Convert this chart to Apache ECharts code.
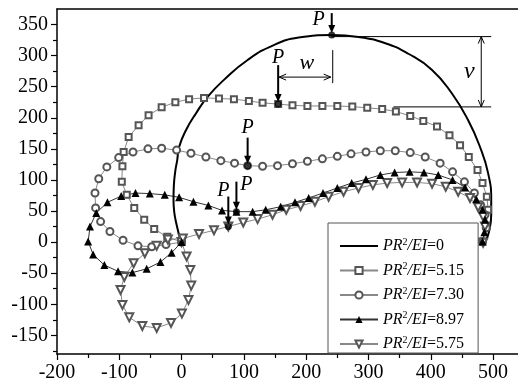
<!DOCTYPE html>
<html>
<head>
<meta charset="utf-8">
<script src="https://cdn.jsdelivr.net/npm/echarts@6/dist/echarts.min.js"></script>
<style>
  html, body { margin: 0; padding: 0; background: #fff; }
  #main { width: 518px; height: 388px; }
</style>
</head>
<body>
<div id="main"></div>
<script>
// deformed ring shapes, [x, y]
var ring0 = [[0,0],[-2,4],[-8,28],[-12,50],[-13,68],[-12.5,90],[-10,115],[-7,132],[-4,153],[7,180],[23,207],[42,234],[68,261],[106,293],[148,317],[188,329],[241,333],[284,330],[327,320],[364,303],[402,277],[434,239],[460,196],[479,153],[492,111],[497,68],[497,44],[493,15],[488,2]];

var ring515 = [[0,0],[-23,8.5],[-44,21],[-60,36],[-76,55],[-88,76],[-96,97],[-95,122],[-93,145],[-85,169],[-69,188],[-53,204],[-32,217],[-10,225],[12,230],[36,232],[60,231],[84,230],[108,227],[130,224],[155,222],[178,220],[202,219],[226,219],[250,219],[274,218],[298,216],[322,214],[344,210],[367,203],[388,195],[410,186],[430,172],[447,156],[461,137],[475,116],[483,95],[490,73],[492,52],[489,26],[483,1]];

var ring730 = [[0,0],[-25,-4],[-48,-7.5],[-70,-6],[-94,3],[-115,17],[-130,33],[-138,55],[-139,79],[-133,102],[-120,121],[-101,136],[-78,145],[-54,150],[-32,151],[-8,148],[15,143],[39,137],[63,131],[85,127],[106,123],[130,122],[154,123],[178,126],[202,130],[226,134],[250,138],[272,142],[296,145],[319,147],[343,147],[367,144],[391,137],[415,127],[435,113],[454,97],[470,79],[480,60],[487,44],[489,23],[483,1]];

var ring897 = [[0,0],[-16,-17],[-34,-32],[-56,-43],[-79,-49],[-102,-47],[-124,-37],[-142,-20],[-150,1],[-147,25],[-137,47],[-119,64],[-97,74],[-74,79],[-51,78],[-27,76],[-4,72],[19,65],[43,59],[65,51],[88,49],[114,49],[135,52],[159,57],[182,64],[204,71],[227,79],[250,87],[273,95],[296,101],[319,108],[342,112],[366,113],[389,112],[412,108],[435,100],[455,88],[473,69],[483,52],[487,36],[486,16],[483,1]];

var ring575 = [[0,0],[8,-23],[14,-45],[15.5,-70],[11,-93],[0.5,-115],[-17,-130],[-40,-138],[-63,-135],[-84,-121],[-95,-101],[-98,-77],[-92,-56],[-77,-34],[-59,-18],[-40,-6],[-22,4],[2,6],[28,13],[52,19],[75,25],[99,31.5],[122,37],[146,44],[168,52],[191,58],[214,65],[236,73],[260,81],[284,87],[307,92],[330,95],[354,96],[378,96],[402,94],[424,89],[444,81],[463,71],[476,56],[484,41],[487,25],[484,-1]];

// load points P on each shape
var loadPts = [[241,333],[155,222],[106,123],[88,49],[75,25]];

var loadVals = ['0', '5.15', '7.30', '8.97', '5.75'];
var xTicks = [-200, -100, 0, 100, 200, 300, 400, 500];
var xMinor = [-150, -50, 50, 150, 250, 350, 450];
var yTicks = [-150, -100, -50, 0, 50, 100, 150, 200, 250, 300, 350];
var yMinor = [-175, -125, -75, -25, 25, 75, 125, 175, 225, 275, 325];

var serif = 'Liberation Serif';
var chart = echarts.init(document.getElementById('main'));

function nm(i) { return 'PR2/EI=' + loadVals[i]; }

var axisLine = { show: true, onZero: false, lineStyle: { color: '#000', width: 1.5 } };
var noLine = { show: false, onZero: false };

var option = {
  animation: false,
  grid: { left: 57, right: -2, top: 9, bottom: 34 },
  xAxis: [
    {
      type: 'value', min: -200, max: 540, position: 'bottom',
      axisLine: axisLine,
      axisTick: { customValues: xTicks, length: 6, lineStyle: { color: '#000', width: 1.2 } },
      axisLabel: { customValues: xTicks, color: '#000', fontFamily: serif, fontSize: 20, margin: 9 },
      splitLine: { show: false }
    },
    {
      type: 'value', min: -200, max: 540, position: 'bottom',
      axisLine: noLine,
      axisTick: { customValues: xMinor, length: 4, lineStyle: { color: '#000', width: 1.2 } },
      axisLabel: { show: false },
      splitLine: { show: false }
    },
    {
      type: 'value', min: -200, max: 540, position: 'top',
      axisLine: axisLine,
      axisTick: { show: false },
      axisLabel: { show: false },
      splitLine: { show: false }
    }
  ],
  yAxis: [
    {
      type: 'value', min: -180, max: 375,
      axisLine: axisLine,
      axisTick: { customValues: yTicks, length: 6, lineStyle: { color: '#000', width: 1.2 } },
      axisLabel: { customValues: yTicks, color: '#000', fontFamily: serif, fontSize: 20, margin: 9 },
      splitLine: { show: false }
    },
    {
      type: 'value', min: -180, max: 375, position: 'left',
      axisLine: noLine,
      axisTick: { customValues: yMinor, length: 4, lineStyle: { color: '#000', width: 1.2 } },
      axisLabel: { show: false },
      splitLine: { show: false }
    }
  ],
  legend: {
    orient: 'vertical',
    left: 328, top: 223,
    padding: [14, 14, 1, 11],
    itemWidth: 38, itemHeight: 9, itemGap: 7.5,
    backgroundColor: '#fff',
    borderColor: '#555', borderWidth: 1,
    data: [
      { name: nm(0), itemStyle: { opacity: 0 } },
      nm(1), nm(2), nm(3), nm(4)
    ],
    formatter: function (name) {
      return '{i|PR}{s|2}{i|/EI}{n|=' + name.split('=')[1] + '}';
    },
    textStyle: {
      fontFamily: serif, fontSize: 16, color: '#000',
      rich: {
        i: { fontFamily: serif, fontSize: 16, fontStyle: 'italic', color: '#000', lineHeight: 18 },
        s: { fontFamily: serif, fontSize: 10, verticalAlign: 'top', color: '#000' },
        n: { fontFamily: serif, fontSize: 16, color: '#000', lineHeight: 18 }
      }
    }
  },
  series: [
    {
      name: nm(1), type: 'line', data: ring515,
      symbol: 'emptyRect', symbolSize: 6,
      itemStyle: { color: '#555' },
      lineStyle: { color: '#888', width: 1 }
    },
    {
      name: nm(2), type: 'line', data: ring730,
      symbol: 'emptyCircle', symbolSize: 7,
      itemStyle: { color: '#555' },
      lineStyle: { color: '#888', width: 1 }
    },
    {
      name: nm(4), type: 'line', data: ring575,
      symbol: 'emptyTriangle', symbolRotate: 180, symbolSize: 8,
      itemStyle: { color: '#555' },
      lineStyle: { color: '#888', width: 1 }
    },
    {
      name: nm(3), type: 'line', data: ring897,
      symbol: 'triangle', symbolSize: 8,
      itemStyle: { color: '#000' },
      lineStyle: { color: '#333', width: 1 }
    },
    {
      name: nm(0), type: 'line', data: ring0, smooth: true,
      showSymbol: false,
      itemStyle: { color: '#000' },
      lineStyle: { color: '#000', width: 2 }
    },
    {
      name: 'P', type: 'scatter', data: loadPts,
      symbol: 'circle', symbolSize: 7,
      itemStyle: { color: '#000' }, z: 5
    }
  ]
};

chart.setOption(option);

// annotations: P arrows, w and v dimensions
function px(p) { return chart.convertToPixel({ xAxisIndex: 0, yAxisIndex: 0 }, p); }

var thin = { stroke: '#000', lineWidth: 1 };
var els = [];

function pLabel(x, y) {
  els.push({ type: 'text', x: x, y: y, style: { text: 'P', fontFamily: serif, fontStyle: 'italic', fontSize: 20, fill: '#000', align: 'center', verticalAlign: 'middle' }, z: 10 });
}
function downArrow(x, y0, y1) {
  els.push({ type: 'line', shape: { x1: x, y1: y0, x2: x, y2: y1 - 6 }, style: { stroke: '#000', lineWidth: 2 }, z: 10 });
  els.push({ type: 'polygon', shape: { points: [[x - 3.5, y1 - 8], [x + 3.5, y1 - 8], [x, y1]] }, style: { fill: '#000' }, z: 10 });
}
function openHead(x, y, dx, dy) {
  // small open arrow head pointing along (dx, dy)
  var l = 7, w = 3;
  var ax = x - dx * l, ay = y - dy * l;
  els.push({ type: 'polyline', shape: { points: [[ax - dy * w, ay + dx * w], [x, y], [ax + dy * w, ay - dx * w]] }, style: thin, z: 10 });
}

var offs = [[-13, -15, -22], [0, -46, -39], [0, -38, -28], [10, -27, -30], [-5, -36, -30]];
loadPts.forEach(function (p, i) {
  var q = px(p), o = offs[i];
  pLabel(q[0] + o[0], q[1] + o[1]);
  downArrow(q[0], q[1] + o[2], q[1] - 2);
});

var top0 = px(loadPts[0]), sq = px(loadPts[1]);
// w
var wy = top0[1] + 42;
els.push({ type: 'line', shape: { x1: sq[0] + 1, y1: wy, x2: top0[0] - 1, y2: wy }, style: thin, z: 10 });
openHead(sq[0] + 1, wy, -1, 0);
openHead(top0[0] - 1, wy, 1, 0);
els.push({ type: 'line', shape: { x1: top0[0] + 1, y1: top0[1] + 15, x2: top0[0] + 1, y2: top0[1] + 48 }, style: thin, z: 10 });
els.push({ type: 'text', x: (sq[0] + top0[0]) / 2 + 2, y: top0[1] + 28, style: { text: 'w', fontFamily: serif, fontStyle: 'italic', fontSize: 22, fill: '#000', align: 'center', verticalAlign: 'middle' }, z: 10 });
// v
var vr = px([497, 0])[0], vx = px([481, 0])[0];
var vTop = top0[1] + 1.5, vBot = px([0, 217.5])[1], vl = px([340, 0])[0];
els.push({ type: 'line', shape: { x1: top0[0], y1: vTop, x2: vr, y2: vTop }, style: thin, z: 10 });
els.push({ type: 'line', shape: { x1: vl, y1: vBot, x2: vr, y2: vBot }, style: thin, z: 10 });
els.push({ type: 'line', shape: { x1: vx, y1: vTop, x2: vx, y2: vBot }, style: thin, z: 10 });
openHead(vx, vTop, 0, -1);
openHead(vx, vBot, 0, 1);
els.push({ type: 'text', x: vx - 12, y: (vTop + vBot) / 2, style: { text: 'v', fontFamily: serif, fontStyle: 'italic', fontSize: 24, fill: '#000', align: 'center', verticalAlign: 'middle' }, z: 10 });

chart.setOption({ graphic: { elements: els } });
</script>
</body>
</html>
